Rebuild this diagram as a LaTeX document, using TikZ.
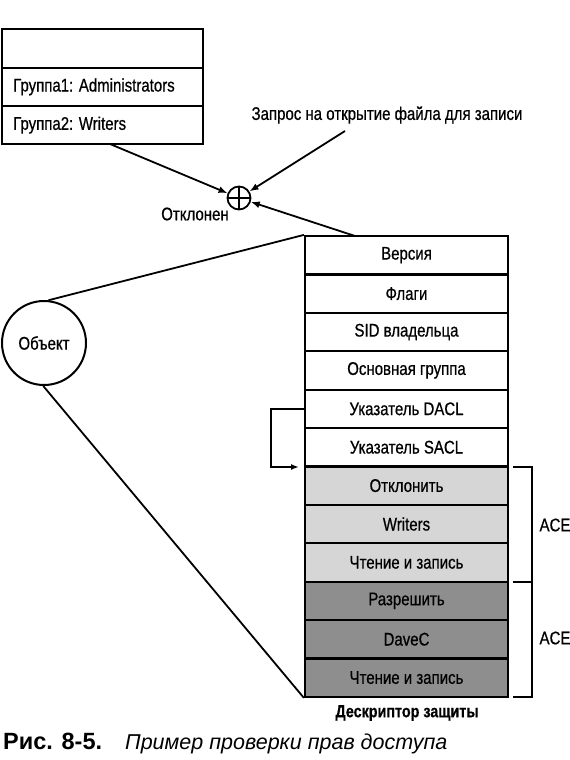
\documentclass[tikz,border=0pt]{standalone}
\usepackage{fontspec}
\setmainfont{Liberation Sans}
\newfontfamily\narrowf[FakeStretch=0.82,FakeBold=0.6]{Liberation Sans}
\usetikzlibrary{arrows.meta,calc}
\definecolor{lightg}{HTML}{D6D6D6}
\definecolor{darkg}{HTML}{8E8E8E}
\tikzset{
  cell/.style={draw, line width=2.2pt, minimum width=203pt, minimum height=38.4pt, inner sep=0pt, font=\narrowf\fontsize{18.3}{21}\selectfont},
  topcell/.style={draw, line width=2.2pt, minimum width=201pt, minimum height=38.3pt, inner sep=0pt},
  conn/.style={line width=1.8pt},
  arr/.style={conn, -{Latex[length=9pt,width=7pt]}},
  lbl/.style={font=\narrowf\fontsize{18.3}{21}\selectfont, inner sep=0pt},
}
\begin{document}
\begin{tikzpicture}[x=1pt,y=-1pt]
\useasboundingbox (0,0) rectangle (570,760);
% top box
\node[topcell] (g0) at (102.5,48.5) {};
\node[topcell] (g1) at (102.5,86.8) {};
\node[topcell] (g2) at (102.5,125.1) {};
\node[lbl, anchor=west] (g1t) at (13,86.8) {Группа1: Administrators};
\node[lbl, anchor=west] (g2t) at (13,125.1) {Группа2: Writers};
% stack
\foreach \n/\t/\c [count=\i from 0] in {
  ver/Версия/white, flg/Флаги/white, sid/SID владельца/white, grp/Основная группа/white,
  dacl/Указатель DACL/white, sacl/Указатель SACL/white,
  a1/Отклонить/lightg, a2/Writers/lightg, a3/Чтение и запись/lightg,
  b1/Разрешить/darkg, b2/DaveC/darkg, b3/Чтение и запись/darkg}
  \node[cell, fill=\c] (\n) at (406.5,{236+38.4*(\i+0.5)}) {\t};
% object
\node[draw, circle, line width=2pt, minimum size=84pt, inner sep=0pt, lbl] (obj) at (44,343) {Объект};
\draw[conn] (obj.84) -- (ver.north west);
\draw[conn] (obj.-91) -- (b3.south west);
% oplus
\node[draw, circle, line width=1.8pt, minimum size=23pt, inner sep=0pt] (op) at (239,198) {};
\draw[line width=1.8pt] (op.north) -- (op.south) (op.west) -- (op.east);
\node[lbl] (rej) at (195,214) {Отклонен};
\node[lbl] (req) at (387,115) {Запрос на открытие файла для записи};
\coordinate (reqs) at (345,131);
\coordinate (g2s) at (110,144);
\coordinate (vers) at (355,236);
\draw[arr] (g2s) -- (op);
\draw[arr] (reqs) -- (op);
\draw[arr] (vers) -- (op);
% DACL pointer
\coordinate (daclend) at (299,467);
\draw[conn, -{Latex[length=8pt,width=6pt]}] (dacl.west) -- ++(-33,0) |- (daclend);
% brackets
\coordinate (br1) at (513,467);
\coordinate (br2) at (513,582);
\coordinate (br3) at (513,697);
\draw[line width=1.6pt] (br1) -- ++(19,0) |- (br3);
\draw[line width=1.6pt] (br2) -- ++(19,0);
\node[lbl] (ace1) at (555,525) {ACE};
\node[lbl] (ace2) at (555,638) {ACE};
\node[lbl, font=\narrowf\bfseries\fontsize{17.5}{20}\selectfont] (desc) at (407,713) {Дескриптор защиты};
% caption
\node[inner sep=0pt, anchor=base west, font=\bfseries\fontsize{23.5}{26}\selectfont] (cap1) at (3,749) {Рис. 8-5.};
\node[inner sep=0pt, anchor=base west, font=\itshape\fontsize{21.5}{24}\selectfont] (cap2) at (125,749) {Пример проверки прав доступа};
\end{tikzpicture}
\end{document}
